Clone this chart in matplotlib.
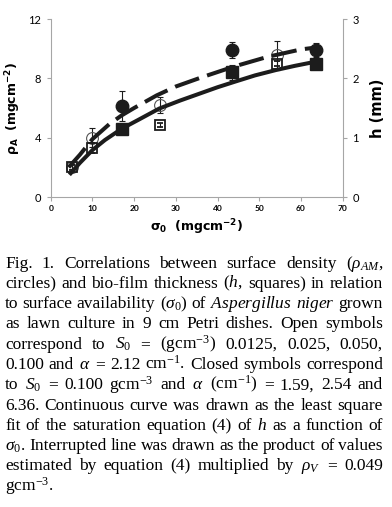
import matplotlib
matplotlib.use('Agg')
import matplotlib.pyplot as plt

# surface availability sigma0 (mgcm-2) and measured values
sig_closed = [17.0, 43.5, 63.5]
rho_closed = [6.15, 9.9, 9.9]
rho_closed_err = [1.0, 0.55, 0.45]
h_closed = [1.14, 2.10, 2.25]
h_closed_err = [0.03, 0.12, 0.05]

sig_open = [5.0, 10.0, 26.3, 54.3]
rho_open = [2.05, 4.0, 6.2, 9.55]
rho_open_err = [0.15, 0.65, 0.55, 1.0]
h_open = [0.50, 0.83, 1.21, 2.25]
h_open_err = [0.04, 0.08, 0.035, 0.05]

# continuous curve (h, mm) and interrupted line (rho_A)
sig_fit = [4.8, 7, 10, 13, 17, 21, 26, 31, 36, 40, 44, 49, 54, 58.5, 63.5]
h_fit = [0.40, 0.575, 0.79, 0.96, 1.15, 1.30, 1.49, 1.625, 1.75, 1.85, 1.94, 2.05, 2.14, 2.21, 2.28]
sig_dash = [4.3, 7, 10, 14, 17, 20, 25.4, 30, 36, 44, 52, 60, 62.8]
rho_dash = [2.0, 2.85, 3.9, 4.9, 5.5, 6.0, 6.85, 7.45, 8.05, 8.8, 9.45, 9.95, 10.05]

xticks = [0, 10, 20, 30, 40, 50, 60, 70]
yticks = [0, 4, 8, 12]
hticks = [0, 1, 2, 3]

caption = [
    r'Fig. 1.  Correlations between surface density ($\rho_{AM}$,',
    r'circles) and bio-film thickness ($h$, squares) in relation',
    r'to surface availability ($\sigma_0$) of $Aspergillus$ $niger$ grown',
    r'as lawn culture in 9 cm Petri dishes.  Open symbols',
    r'correspond to $S_0$ = (gcm$^{-3}$) 0.0125, 0.025, 0.050,',
    r'0.100 and $\alpha$ = 2.12 cm$^{-1}$. Closed symbols correspond',
    r'to $S_0$ = 0.100 gcm$^{-3}$ and $\alpha$ (cm$^{-1}$) = 1.59, 2.54 and',
    r'6.36. Continuous curve was drawn as the least square',
    r'fit of the saturation equation (4) of $h$ as a function of',
    r'$\sigma_0$. Interrupted line was drawn as the product of values',
    r'estimated by equation (4) multiplied by $\rho_V$ = 0.049',
    r'gcm$^{-3}$.',
]

plt.rcParams['mathtext.fontset'] = 'custom'
plt.rcParams['mathtext.rm'] = 'Liberation Serif'
plt.rcParams['mathtext.it'] = 'Liberation Serif:italic'
plt.rcParams['mathtext.bf'] = 'Liberation Serif:bold'

W, H = 392, 507
fig = plt.figure(figsize=(W / 100, H / 100), dpi=100)
ax = fig.add_axes([50.7 / W, 1 - 197 / H, 292 / W, 178 / H])
ax2 = ax.twinx()

grey = '#a6a6a6'
ink = '#1c1c1c'

ax.plot(sig_dash, rho_dash, color=ink, lw=2.9, dashes=(6.3, 2.1), zorder=4)
ax.errorbar(sig_open, rho_open, yerr=rho_open_err, fmt='o', ms=8.5, mfc='none',
            mec='#555555', mew=0.8, ecolor=ink, elinewidth=0.8, capsize=2.5,
            capthick=0.8, zorder=3)
ax.errorbar(sig_closed, rho_closed, yerr=rho_closed_err, fmt='o', ms=9,
            mfc=ink, mec=ink, ecolor=ink, elinewidth=0.8, capsize=2.5,
            capthick=0.8, zorder=3)

ax2.plot(sig_fit, h_fit, color=ink, lw=2.9, zorder=4)
ax2.errorbar(sig_open, h_open, yerr=h_open_err, fmt='s', ms=7.5, mfc='none',
             mec=ink, mew=1.3, ecolor=ink, elinewidth=0.8, capsize=2,
             capthick=0.8, zorder=3)
ax2.errorbar(sig_closed, h_closed, yerr=h_closed_err, fmt='s', ms=8,
             mfc=ink, mec=ink, ecolor=ink, elinewidth=0.8, capsize=2,
             capthick=0.8, zorder=3)

ax.set_xlim(0, 70)
ax.set_ylim(0, 12)
ax2.set_ylim(0, 3)
ax.set_xticks(xticks)
ax.set_yticks(yticks)
ax2.set_yticks(hticks)

for a in (ax, ax2):
    for s in a.spines.values():
        s.set_color(grey)
        s.set_linewidth(0.8)
    a.spines['top'].set_visible(False)
ax.spines['right'].set_visible(False)
ax2.spines['left'].set_visible(False)
ax2.spines['bottom'].set_visible(False)

ax.tick_params(axis='x', direction='out', length=3, width=0.8, color=grey, pad=3)
ax.tick_params(axis='y', direction='out', length=3, width=0.8, color=grey, pad=4)
ax2.tick_params(axis='y', direction='out', length=3, width=0.8, color=grey, pad=4)
for lab in ax.get_xticklabels():
    lab.set_family(['Lato', 'DejaVu Sans'])
    lab.set_fontweight('bold')
    lab.set_fontsize(6)
for lab in ax.get_yticklabels() + ax2.get_yticklabels():
    lab.set_family(['Lato', 'DejaVu Sans'])
    lab.set_fontsize(8)

ax.set_xlabel(r'$\mathbf{\sigma_0\ \ (mgcm^{-2})}$', fontsize=9, labelpad=4,
              math_fontfamily='dejavusans')
ax.set_ylabel(r'$\mathbf{\rho_A\ \ (mgcm^{-2})}$', fontsize=9, labelpad=4,
              math_fontfamily='dejavusans')
ax2.set_ylabel('h (mm)', fontsize=10.5, fontweight='bold', labelpad=8,
               family=['DejaVu Sans'])

# justified caption, one word at a time
renderer = fig.canvas.get_renderer()
left, right = 5, 383
base0, step = 267.5, 20.3
for i, line in enumerate(caption):
    y = 1 - (base0 + i * step) / H
    words = [w for w in line.split(' ') if w]
    texts = [fig.text(0, y, w, fontsize=12.5, family='Liberation Serif',
                      va='baseline', ha='left') for w in words]
    widths = [t.get_window_extent(renderer).width for t in texts]
    if i == len(caption) - 1:
        gap = 4.0
    else:
        gap = (right - left - sum(widths)) / (len(words) - 1)
    x = left
    for t, w in zip(texts, widths):
        t.set_x(x / W)
        x += w + gap

fig.savefig('out.png', dpi=100)
